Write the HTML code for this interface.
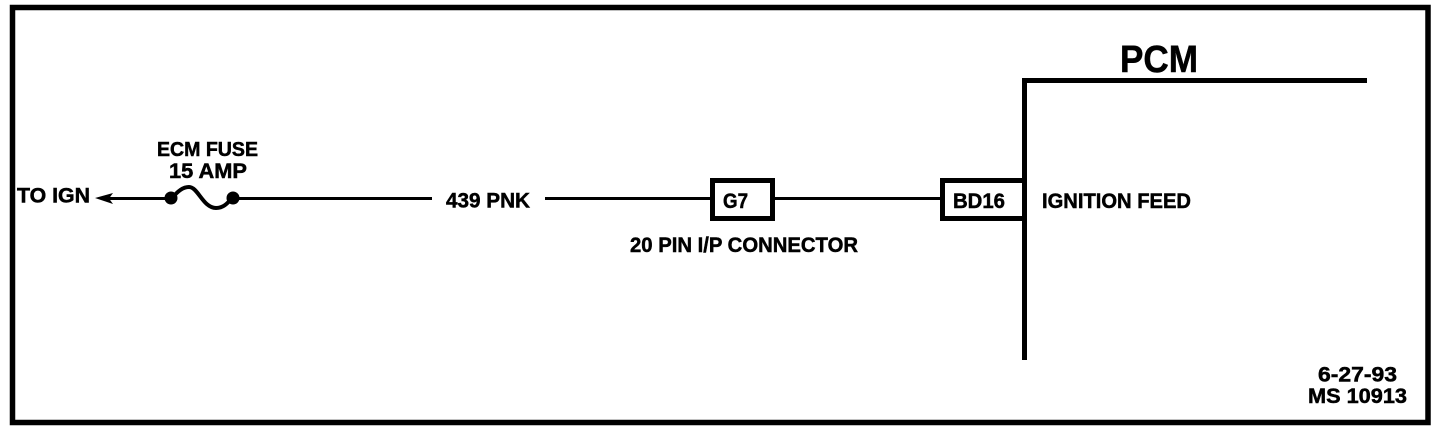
<!DOCTYPE html>
<html>
<head>
<meta charset="utf-8">
<style>
html,body{margin:0;padding:0;background:#fff;width:1440px;height:432px;overflow:hidden}
svg{display:block}
text{font-family:"Liberation Sans",sans-serif;font-weight:bold;fill:#000;stroke:#000;stroke-width:.5}
</style>
</head>
<body>
<svg width="1440" height="432" viewBox="0 0 1440 432" xmlns="http://www.w3.org/2000/svg">
<rect width="1440" height="432" fill="#fff"/>
<rect x="12.500" y="7.500" width="1415.500" height="415" fill="none" stroke="#000" stroke-width="5.500"/>

<!-- wires -->
<path d="M108 198.500H172M232 198.500H432M545 198.500H712M775 198.500H941" stroke="#000" stroke-width="3" fill="none"/>
<polygon points="95,198 113,193 109,198.500 113,204" fill="#000"/>
<circle cx="171" cy="198" r="6.500" fill="#000"/>
<circle cx="233" cy="198" r="6.500" fill="#000"/>
<path d="M172 198C178 191 183 187 189 187C198 187 203 208 216 208C223 208 227 204 232 198" fill="none" stroke="#000" stroke-width="4"/>

<!-- connectors -->
<rect x="712.500" y="180.500" width="60" height="38" fill="#fff" stroke="#000" stroke-width="5"/>
<path d="M1024 180.500H942.500V218.500H1024" fill="#fff" stroke="#000" stroke-width="5"/>

<!-- PCM -->
<path d="M1367 80.500H1024.500V360" fill="none" stroke="#000" stroke-width="5"/>

<!-- labels -->
<text x="17" y="202.500" font-size="21" textLength="73" lengthAdjust="spacingAndGlyphs">TO IGN</text>
<text x="157" y="156" font-size="20" textLength="101" lengthAdjust="spacingAndGlyphs">ECM FUSE</text>
<text x="169" y="178" font-size="21" textLength="78" lengthAdjust="spacingAndGlyphs">15 AMP</text>
<text x="446" y="207.500" font-size="21" textLength="84" lengthAdjust="spacingAndGlyphs">439 PNK</text>
<text x="723" y="208" font-size="21" textLength="25" lengthAdjust="spacingAndGlyphs">G7</text>
<text x="630" y="252" font-size="21" textLength="228" lengthAdjust="spacingAndGlyphs">20 PIN I/P CONNECTOR</text>
<text x="953" y="208" font-size="21" textLength="52" lengthAdjust="spacingAndGlyphs">BD16</text>
<text x="1042" y="208" font-size="21" textLength="149" lengthAdjust="spacingAndGlyphs">IGNITION FEED</text>
<text x="1120" y="72" font-size="38" textLength="78" lengthAdjust="spacingAndGlyphs">PCM</text>
<text x="1318" y="381.500" font-size="21" textLength="79" lengthAdjust="spacingAndGlyphs">6-27-93</text>
<text x="1308" y="403" font-size="21" textLength="99" lengthAdjust="spacingAndGlyphs">MS 10913</text>
</svg>
</body>
</html>
